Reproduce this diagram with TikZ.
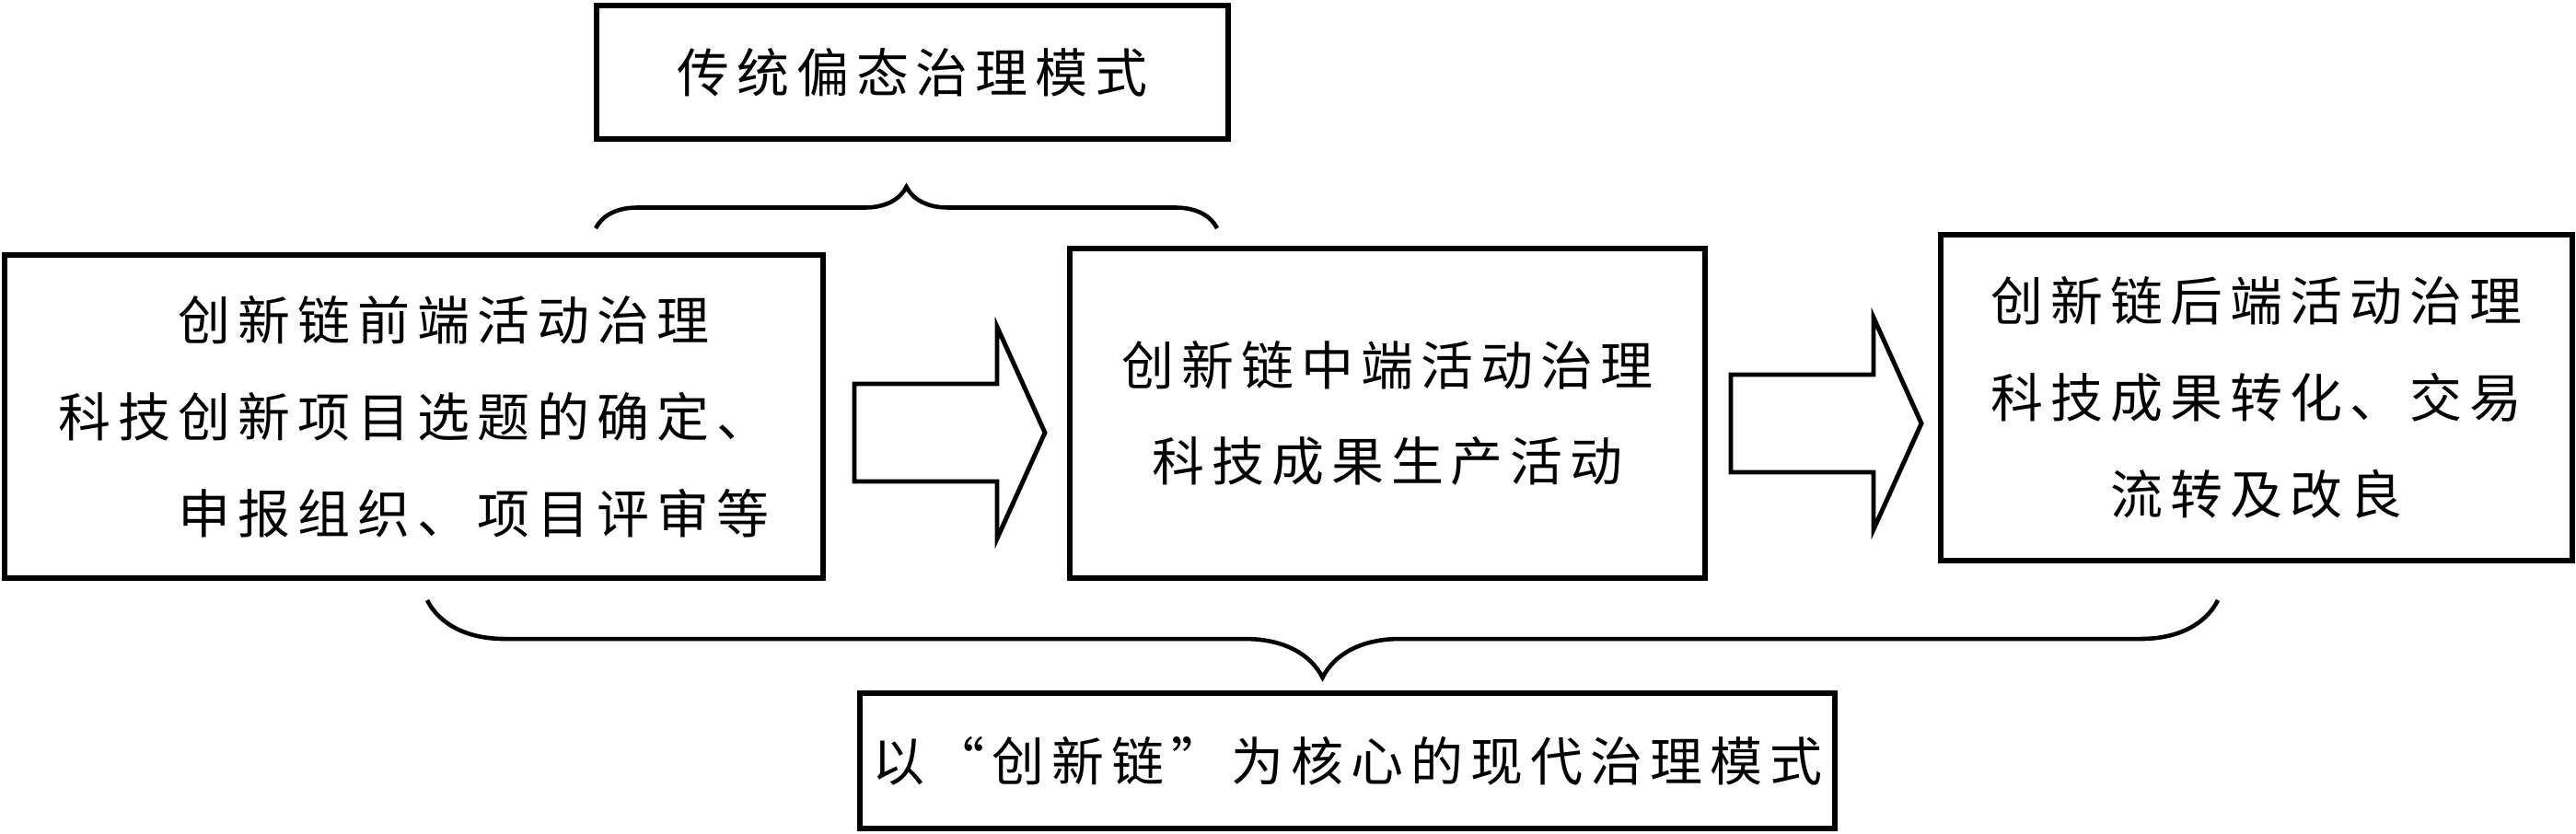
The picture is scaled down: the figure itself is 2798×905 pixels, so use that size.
\documentclass[tikz,border=0pt]{standalone}
\usepackage{fontspec}
\setmainfont{Noto Sans CJK SC}[LetterSpace=14]
\usetikzlibrary{decorations.pathreplacing}

\begin{document}
\begin{tikzpicture}
[x=0.01cm,y=-0.01cm,%
  boxDecorate/.style={shape=rectangle,draw,line width=1.7pt,inner sep=0pt,align=center,%
    font=\fontsize{16.2pt}{29.8pt}\selectfont},%
  arrowDecorate/.style={draw,line width=1.4pt,line join=miter},%
  braceDecorate/.style={decorate,decoration={brace,amplitude=#1},line width=1.3pt}]
\useasboundingbox (0,0) rectangle (2798,905);
%% boxes
\node (trad) at (991,78.5) [boxDecorate,minimum width=6.86cm,minimum height=1.45cm] {传统偏态治理模式};
\node (front) at (449.5,452.5) [boxDecorate,align=left,minimum width=8.89cm,minimum height=3.51cm]
  {　　创新链前端活动治理\\科技创新项目选题的确定、\\　　申报组织、项目评审等};
\node (middle) at (1507,449) [boxDecorate,minimum width=6.90cm,minimum height=3.58cm]
  {创新链中端活动治理\\科技成果生产活动};
\node (back) at (2451,432) [boxDecorate,minimum width=6.86cm,minimum height=3.54cm]
  {创新链后端活动治理\\科技成果转化、交易\\流转及改良};
\node (modern) at (1463.5,826.5) [boxDecorate,minimum width=10.59cm,minimum height=1.47cm]
  {以“创新链”为核心的现代治理模式};
%% block arrows
\foreach \x/\y in {928/470, 1880/460}
{
  \draw[arrowDecorate] (\x,\y) ++(0,-53) -- ++(155,0) -- ++(0,-62) -- ++(52,115)
    -- ++(-52,115) -- ++(0,-62) -- ++(-155,0) -- cycle;
}
%% braces
\coordinate (tradL) at (647,248);
\coordinate (tradR) at (1322,248);
\coordinate (modL) at (464,652);
\coordinate (modR) at (2409,652);
\draw[braceDecorate=0.45cm] (tradL) -- (tradR);
\draw[braceDecorate=0.84cm] (modR) -- (modL);
\end{tikzpicture}
\end{document}
